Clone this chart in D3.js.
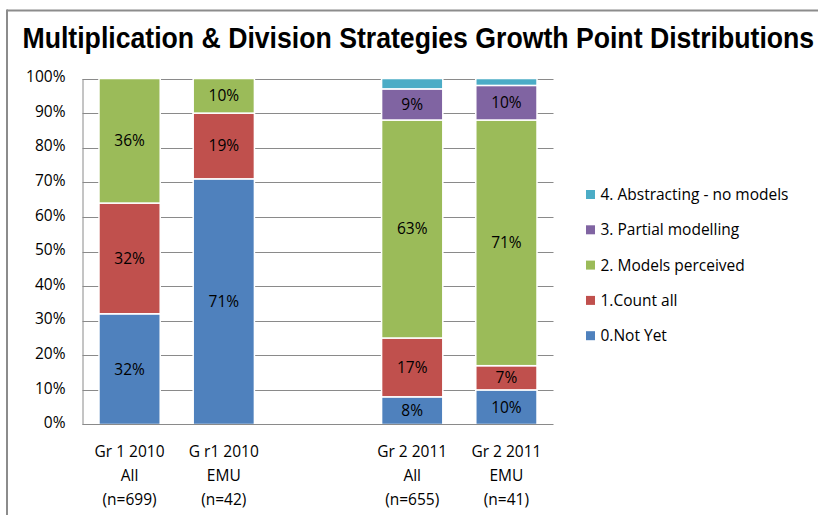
<!DOCTYPE html>
<html>
<head>
<meta charset="utf-8">
<script src="https://cdn.jsdelivr.net/npm/d3@7/dist/d3.min.js"></script>
<style>
  html, body { margin: 0; padding: 0; background: #fff; }
  svg { display: block; }
</style>
</head>
<body>
<svg id="chart" width="818" height="515"></svg>
<script>
// ---- DATA ----
const title = "Multiplication & Division Strategies Growth Point  Distributions";
const categories = ["c1", "c2", "gap", "c3", "c4"];
const categoryLabels = [
  ["Gr 1 2010", "All", "(n=699)"],
  ["G r1 2010", "EMU", "(n=42)"],
  [],
  ["Gr 2 2011", "All", "(n=655)"],
  ["Gr 2 2011", "EMU", "(n=41)"]
];
const seriesNames = ["0.Not Yet", "1.Count all", "2. Models perceived", "3. Partial modelling", "4. Abstracting - no models"];
const notYet           = [32, 71, 0, 8, 10];
const countAll         = [32, 19, 0, 17, 7];
const modelsPerceived  = [36, 10, 0, 63, 71];
const partialModelling = [0, 0, 0, 9, 10];
const abstracting      = [0, 0, 0, 3, 2];
const seriesColors = ["#4F81BD", "#C0504D", "#9BBB59", "#8064A2", "#4BACC6"];
const yTicks = [0, 10, 20, 30, 40, 50, 60, 70, 80, 90, 100];

// ---- BUILD ----
const seriesValues = [notYet, countAll, modelsPerceived, partialModelling, abstracting];
const table = categories.map((c, i) => {
  const row = { cat: c };
  seriesNames.forEach((s, j) => row[s] = seriesValues[j][i]);
  return row;
});
const stacked = d3.stack().keys(seriesNames)(table);

const svg = d3.select("#chart");
const font = "'Open Sans', Lato, sans-serif";
const fs = 15.5;

// frame
svg.append("line").attr("x1", 7).attr("x2", 818).attr("y1", 10.5).attr("y2", 10.5)
  .attr("stroke", "#8c8c8c").attr("stroke-width", 2);
svg.append("line").attr("x1", 7).attr("x2", 7).attr("y1", 9.5).attr("y2", 515)
  .attr("stroke", "#8c8c8c").attr("stroke-width", 2);

// title (condensed horizontally to fit like a narrow face)
const titleText = svg.append("text").attr("x", 0).attr("y", 0)
  .attr("font-family", "'Liberation Sans Narrow', 'Arial Narrow', 'Liberation Sans', sans-serif")
  .attr("font-weight", "bold").attr("font-size", 30)
  .attr("fill", "#000").text(title);
const natural = titleText.node().getComputedTextLength();
titleText.attr("transform", `translate(22.5,48) scale(${792 / natural},1)`);

const x = d3.scaleBand().domain(categories).range([82.5, 553.5]).paddingInner(0.35).paddingOuter(0.175);
const y = d3.scaleLinear().domain([0, 100]).range([424.5, 78.5]);

// gridlines
svg.append("g").selectAll("line").data(yTicks.filter(t => t > 0)).join("line")
  .attr("x1", 82.5).attr("x2", 553.5)
  .attr("y1", d => Math.round(y(d)) + 0.5).attr("y2", d => Math.round(y(d)) + 0.5)
  .attr("stroke", "#8a8a8a").attr("stroke-width", 1);

// y axis
const yAxis = svg.append("g").attr("transform", "translate(82.5,0)")
  .call(d3.axisLeft(y).tickValues(yTicks).tickFormat(d => d + "%").tickSize(0).tickPadding(17));
yAxis.select(".domain").attr("stroke", "#8a8a8a");
yAxis.selectAll("text").attr("font-family", font).attr("font-size", fs).attr("fill", "#000")
  .attr("dy", "0.2em");

// bars
const groups = svg.append("g").selectAll("g").data(stacked).join("g")
  .attr("fill", (d, i) => seriesColors[i]);
groups.selectAll("rect").data(d => d.filter(p => p[1] - p[0] > 0)).join("rect")
  .attr("x", d => x(d.data.cat))
  .attr("width", x.bandwidth())
  .attr("y", d => y(d[1]))
  .attr("height", d => y(d[0]) - y(d[1]))
  .attr("stroke", "#ffffff").attr("stroke-width", 1.5);

// x axis line
svg.append("line").attr("x1", 82.5).attr("x2", 553.5).attr("y1", 424.5).attr("y2", 424.5)
  .attr("stroke", "#8a8a8a");

// data labels
groups.selectAll("text").data(d => d.filter(p => p[1] - p[0] >= 5)).join("text")
  .attr("x", d => x(d.data.cat) + x.bandwidth() / 2)
  .attr("y", d => (y(d[0]) + y(d[1])) / 2)
  .attr("dy", "0.35em")
  .attr("text-anchor", "middle")
  .attr("font-family", font).attr("font-size", fs).attr("fill", "#000")
  .text(d => Math.round(d[1] - d[0]) + "%");

// category labels
const catG = svg.append("g").selectAll("g").data(categories).join("g");
catG.each(function (c, i) {
  const g = d3.select(this);
  categoryLabels[i].forEach((line, k) => {
    g.append("text")
      .attr("x", x(c) + x.bandwidth() / 2)
      .attr("y", 452 + k * 24)
      .attr("dy", "0.35em")
      .attr("text-anchor", "middle")
      .attr("font-family", font).attr("font-size", fs).attr("fill", "#000")
      .text(line);
  });
});

// legend
const legendOrder = seriesNames.map((s, i) => i).reverse();
const lg = svg.append("g").selectAll("g").data(legendOrder).join("g")
  .attr("transform", (d, k) => `translate(586, ${194.5 + k * 35.3})`);
lg.append("rect").attr("x", 0).attr("y", -4.5).attr("width", 9).attr("height", 9)
  .attr("fill", d => seriesColors[d]);
lg.append("text").attr("x", 14.5).attr("y", 0).attr("dy", "0.35em")
  .attr("font-family", font).attr("font-size", fs).attr("fill", "#000")
  .text(d => seriesNames[d]);
</script>
</body>
</html>
